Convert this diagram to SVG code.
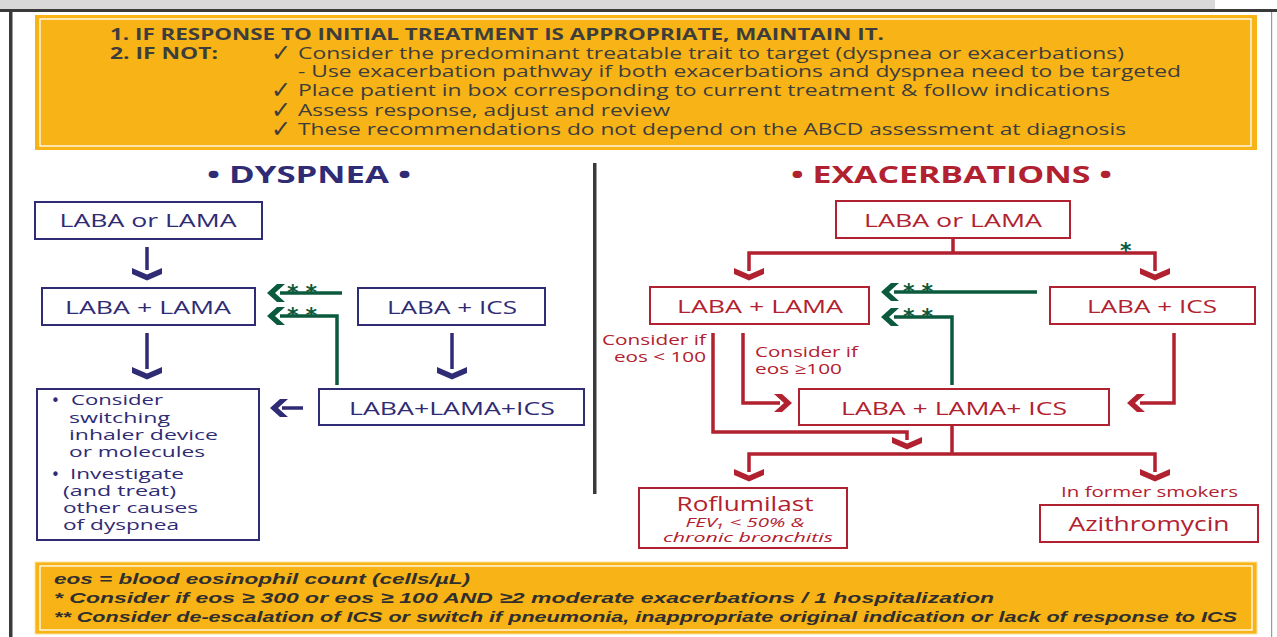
<svg xmlns="http://www.w3.org/2000/svg" width="1277" height="637" viewBox="0 0 1277 637">
<style>
.top{font-family:"Open Sans","DejaVu Sans",sans-serif;font-size:16.5px;fill:#3d3d3d}
.topb{font-family:"Open Sans","DejaVu Sans",sans-serif;font-size:15.5px;font-weight:bold;fill:#3d3d3d}
.chk{font-family:"DejaVu Sans",sans-serif;font-size:24px;fill:#3d3d3d}
.foot{font-family:"Liberation Sans",Arial,sans-serif;font-size:15.5px;font-style:italic;font-weight:bold;fill:#2f2f2f}
.nb{fill:#fff;stroke:#2f2b74;stroke-width:2}
.rb{fill:#fff;stroke:#b2212f;stroke-width:2}
.nt{font-family:"Open Sans","DejaVu Sans",sans-serif;font-size:17.5px;fill:#2f2b74;text-anchor:middle}
.ns{font-family:"Open Sans","DejaVu Sans",sans-serif;font-size:15px;fill:#2f2b74}
.bul{font-family:"DejaVu Sans",sans-serif;font-size:15px;fill:#2f2b74}
.rt{font-family:"Open Sans","DejaVu Sans",sans-serif;font-size:17.5px;fill:#b2212f;text-anchor:middle}
.rs{font-family:"Open Sans","DejaVu Sans",sans-serif;font-size:15px;fill:#b2212f}
.ri{font-family:"Open Sans","DejaVu Sans",sans-serif;font-size:13.5px;font-style:italic;fill:#b2212f;text-anchor:middle}
.hd{font-family:"Open Sans","DejaVu Sans",sans-serif;font-size:23px;font-weight:bold}
.ast{font-family:"DejaVu Sans",sans-serif;font-size:22px;font-weight:bold;fill:#0b5a3d}
.nl{fill:none;stroke:#2f2b74;stroke-width:3.5}
.rl{fill:none;stroke:#b2212f;stroke-width:3.5}
.gl{fill:none;stroke:#0b5a3d;stroke-width:3.5}
</style>
<defs>
<path id="cd" d="M-15,0 L0,6.5 L15,0 L15,6 L0,12.5 L-15,6 Z"/>
<path id="cl" d="M0,0 L10,-9 L18,-9 L8,0 L18,9 L10,9 Z"/>
<path id="cr" d="M0,0 L-10,-9 L-18,-9 L-8,0 L-18,9 L-10,9 Z"/>
</defs>
<rect width="1277" height="637" fill="#fff"/>
<rect x="0" y="0" width="1215" height="9" fill="#d9d9d9"/>
<rect x="0" y="9" width="1277" height="3" fill="#3a3a3a"/>
<rect x="9" y="9" width="3.5" height="628" fill="#3a3a3a"/>
<rect x="1271" y="12" width="1.2" height="625" fill="#9a9a9a"/>

<g id="instructions">
<rect x="35" y="15" width="1222" height="135" fill="#f8b316"/>
<rect x="40" y="19" width="1211" height="127" fill="none" stroke="#fff" stroke-width="1.3"/>
<text class="topb" x="110" y="40" textLength="774" lengthAdjust="spacingAndGlyphs">1.  IF RESPONSE TO INITIAL TREATMENT IS APPROPRIATE, MAINTAIN IT.</text>
<text class="topb" x="110" y="59" textLength="108" lengthAdjust="spacingAndGlyphs">2.  IF NOT:</text>
<text class="chk" x="271" y="61">✓</text>
<text class="top" x="298" y="59" textLength="826" lengthAdjust="spacingAndGlyphs">Consider the predominant treatable trait to target (dyspnea or exacerbations)</text>
<text class="top" x="298" y="77" textLength="883" lengthAdjust="spacingAndGlyphs">- Use exacerbation pathway if both exacerbations and dyspnea need to be targeted</text>
<text class="chk" x="271" y="98">✓</text>
<text class="top" x="298" y="96" textLength="812" lengthAdjust="spacingAndGlyphs">Place patient in box corresponding to current treatment &amp; follow indications</text>
<text class="chk" x="271" y="118">✓</text>
<text class="top" x="298" y="116" textLength="372" lengthAdjust="spacingAndGlyphs">Assess response, adjust and review</text>
<text class="chk" x="271" y="137">✓</text>
<text class="top" x="298" y="135" textLength="828" lengthAdjust="spacingAndGlyphs">These recommendations do not depend on the ABCD assessment at diagnosis</text>
</g>

<rect id="divider" x="593" y="163" width="3.5" height="331" fill="#3a3a3a"/>

<g id="dyspnea-heading"><text class="hd" x="207" y="183" fill="#2f2b74" textLength="204" lengthAdjust="spacingAndGlyphs">• DYSPNEA •</text></g>
<g id="exac-heading"><text class="hd" x="791" y="183" fill="#b2212f" textLength="321" lengthAdjust="spacingAndGlyphs">• EXACERBATIONS •</text></g>

<g id="connectors">
<path class="nl" d="M147,247 V270"/>
<use href="#cd" x="147" y="268" fill="#2f2b74"/>
<path class="nl" d="M147,333 V369"/>
<use href="#cd" x="147" y="367" fill="#2f2b74"/>
<path class="nl" d="M452,333 V369"/>
<use href="#cd" x="452" y="367" fill="#2f2b74"/>
<path class="nl" d="M282,408 H303"/>
<use href="#cl" x="270" y="408" fill="#2f2b74"/>
<path class="gl" d="M280,293 H342"/>
<use href="#cl" x="267" y="293" fill="#0b5a3d"/>
<path class="gl" d="M337,385 V316 H280"/>
<use href="#cl" x="267" y="316" fill="#0b5a3d"/>
<text class="ast" x="287" y="300" textLength="30" lengthAdjust="spacing">**</text>
<text class="ast" x="287" y="323" textLength="30" lengthAdjust="spacing">**</text>
<path class="rl" d="M953,239 V253 M749,271 V253 H1155 V271"/>
<use href="#cd" x="749" y="268" fill="#b2212f"/>
<use href="#cd" x="1155" y="268" fill="#b2212f"/>
<text class="ast" x="1120" y="258">*</text>
<path class="gl" d="M894,292 H1037"/>
<use href="#cl" x="881" y="292" fill="#0b5a3d"/>
<path class="gl" d="M952,385 V317 H894"/>
<use href="#cl" x="881" y="317" fill="#0b5a3d"/>
<text class="ast" x="903" y="299" textLength="30" lengthAdjust="spacing">**</text>
<text class="ast" x="903" y="324" textLength="30" lengthAdjust="spacing">**</text>
<path class="rl" d="M713,333 V432 H907 V440"/>
<use href="#cd" x="907" y="437" fill="#b2212f"/>
<path class="rl" d="M743,333 V403 H780"/>
<use href="#cr" x="792" y="403" fill="#b2212f"/>
<path class="rl" d="M1174,333 V403 H1140"/>
<use href="#cl" x="1127" y="403" fill="#b2212f"/>
<path class="rl" d="M952,426 V454 M749,472 V454 H1155 V472"/>
<use href="#cd" x="749" y="469" fill="#b2212f"/>
<use href="#cd" x="1155" y="469" fill="#b2212f"/>
<text class="rs" x="602" y="345" textLength="104" lengthAdjust="spacingAndGlyphs">Consider if</text>
<text class="rs" x="614" y="362" textLength="92" lengthAdjust="spacingAndGlyphs">eos &lt; 100</text>
<text class="rs" x="755" y="357" textLength="103" lengthAdjust="spacingAndGlyphs">Consider if</text>
<text class="rs" x="755" y="374" textLength="87" lengthAdjust="spacingAndGlyphs">eos ≥100</text>
<text class="rs" x="1061" y="497" textLength="177" lengthAdjust="spacingAndGlyphs">In former smokers</text>
</g>

<g id="d-laba-or-lama"><rect class="nb" x="35" y="202" width="227" height="37"/><text class="nt" x="148" y="227" textLength="177" lengthAdjust="spacingAndGlyphs">LABA or LAMA</text></g>
<g id="d-laba-lama"><rect class="nb" x="42" y="288" width="213" height="37"/><text class="nt" x="148" y="314" textLength="166" lengthAdjust="spacingAndGlyphs">LABA + LAMA</text></g>
<g id="d-laba-ics"><rect class="nb" x="358" y="288" width="187" height="37"/><text class="nt" x="452" y="314" textLength="130" lengthAdjust="spacingAndGlyphs">LABA + ICS</text></g>
<g id="d-triple"><rect class="nb" x="319" y="389" width="265" height="36"/><text class="nt" x="452" y="415" textLength="206" lengthAdjust="spacingAndGlyphs">LABA+LAMA+ICS</text></g>
<g id="d-other"><rect class="nb" x="37" y="389" width="222" height="151"/>
<text class="bul" x="51" y="406">•</text><text class="ns" x="71" y="405" textLength="92" lengthAdjust="spacingAndGlyphs">Consider</text>
<text class="ns" x="69" y="423" textLength="101" lengthAdjust="spacingAndGlyphs">switching</text>
<text class="ns" x="69" y="440" textLength="149" lengthAdjust="spacingAndGlyphs">inhaler device</text>
<text class="ns" x="69" y="457" textLength="136" lengthAdjust="spacingAndGlyphs">or molecules</text>
<text class="bul" x="51" y="480">•</text><text class="ns" x="70" y="479" textLength="114" lengthAdjust="spacingAndGlyphs">Investigate</text>
<text class="ns" x="63" y="496" textLength="113" lengthAdjust="spacingAndGlyphs">(and treat)</text>
<text class="ns" x="63" y="513" textLength="135" lengthAdjust="spacingAndGlyphs">other causes</text>
<text class="ns" x="63" y="530" textLength="116" lengthAdjust="spacingAndGlyphs">of dyspnea</text>
</g>

<g id="e-laba-or-lama"><rect class="rb" x="836" y="201" width="234" height="37"/><text class="rt" x="953" y="227" textLength="178" lengthAdjust="spacingAndGlyphs">LABA or LAMA</text></g>
<g id="e-laba-lama"><rect class="rb" x="650" y="287" width="219" height="37"/><text class="rt" x="760" y="313" textLength="166" lengthAdjust="spacingAndGlyphs">LABA + LAMA</text></g>
<g id="e-laba-ics"><rect class="rb" x="1050" y="287" width="205" height="37"/><text class="rt" x="1152" y="313" textLength="130" lengthAdjust="spacingAndGlyphs">LABA + ICS</text></g>
<g id="e-triple"><rect class="rb" x="799" y="389" width="310" height="36"/><text class="rt" x="954" y="415" textLength="226" lengthAdjust="spacingAndGlyphs">LABA + LAMA+ ICS</text></g>
<g id="e-roflumilast"><rect class="rb" x="639" y="488" width="208" height="60"/>
<text class="rt" x="745" y="511" style="font-size:20px" textLength="137" lengthAdjust="spacingAndGlyphs">Roflumilast</text>
<text class="ri" x="745" y="527" textLength="119" lengthAdjust="spacingAndGlyphs">FEV₁ &lt; 50% &amp;</text>
<text class="ri" x="748" y="542" textLength="170" lengthAdjust="spacingAndGlyphs">chronic bronchitis</text>
</g>
<g id="e-azithromycin"><rect class="rb" x="1040" y="505" width="218" height="37"/><text class="rt" x="1149" y="531" style="font-size:20px" textLength="161" lengthAdjust="spacingAndGlyphs">Azithromycin</text></g>

<g id="footnotes">
<rect x="35" y="562" width="1222" height="72" fill="#f8b316" stroke="#fbe3a0" stroke-width="1"/>
<rect x="40" y="566" width="1212" height="64" fill="none" stroke="#fff" stroke-width="1.3"/>
<text class="foot" x="54" y="584" textLength="416" lengthAdjust="spacingAndGlyphs">eos = blood eosinophil count (cells/µL)</text>
<text class="foot" x="54" y="603" textLength="940" lengthAdjust="spacingAndGlyphs">* Consider if eos ≥ 300 or eos ≥ 100 AND ≥2 moderate exacerbations / 1 hospitalization</text>
<text class="foot" x="54" y="622" textLength="1183" lengthAdjust="spacingAndGlyphs">** Consider de-escalation of ICS or switch if pneumonia, inappropriate original indication or lack of response to ICS</text>
</g>
</svg>
